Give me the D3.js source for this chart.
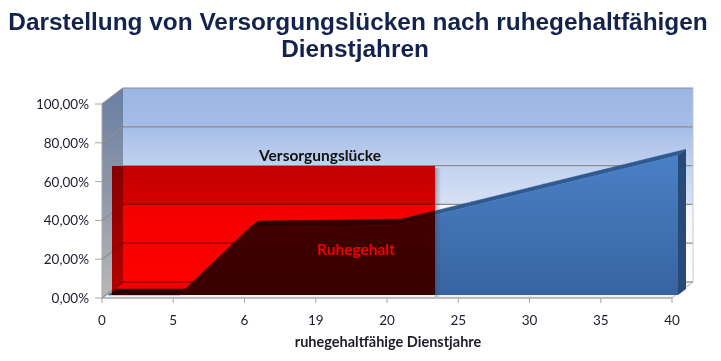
<!DOCTYPE html>
<html><head><meta charset="utf-8">
<script src="https://cdn.jsdelivr.net/npm/d3@7"></script>
<style>
html,body{margin:0;padding:0;background:#fff;}
svg{display:block;}
</style></head>
<body>
<svg id="chart" width="721" height="361"></svg>
<script>
// ---- data ----
const categories = ["0","5","6","19","20","25","30","35","40"];
const ruhegehalt = [0.00, 0.00, 0.35, 0.355, 0.36, 0.45, 0.54, 0.63, 0.72];
const yTicks = [0, 0.2, 0.4, 0.6, 0.8, 1.0];
// Versorgungslücke overlay box, in category-index units and value units
const gapFromIndex = 0.056, gapToIndex = 4.59, gapLevel = 0.665, gapBase = 0.0;
const titleLines = ["Darstellung von Versorgungslücken nach ruhegehaltfähigen", "Dienstjahren"];
const xTitle = "ruhegehaltfähige Dienstjahre";
const gapLabel = "Versorgungslücke";
const pensionLabel = "Ruhegehalt";

// ---- layout ----
const svg = d3.select("#chart");
const x = d3.scalePoint().domain(categories).range([102, 672]);
const xi = d3.scaleLinear().domain([0, categories.length - 1]).range([102, 672]);
const y = d3.scaleLinear().domain([0, 1]).range([298, 104]);
const wall = {dx: 21, dy: -16};
const sf = {dx: 6, dy: -3};   // series front face offset
const sb = {dx: 14, dy: -9};  // series back face offset
const font = "Lato, 'Open Sans', sans-serif";

const defs = svg.append("defs");
const g1 = defs.append("linearGradient").attr("id","backwall").attr("gradientUnits","userSpaceOnUse")
  .attr("x1",0).attr("y1",y(1)+wall.dy).attr("x2",0).attr("y2",y(0)+wall.dy);
[[0,"#9cb5e4"],[0.2,"#a5bde8"],[0.4,"#c2d2ef"],[0.6,"#d6e1f4"],[0.605,"#f4f7fc"],[1,"#ffffff"]]
  .forEach(s=>g1.append("stop").attr("offset",s[0]).attr("stop-color",s[1]));
const g2 = defs.append("linearGradient").attr("id","sidewall").attr("x1",0).attr("y1",0).attr("x2",0).attr("y2",1);
[[0,"#687ea3"],[0.5,"#8f98aa"],[1,"#b8b8b8"]].forEach(s=>g2.append("stop").attr("offset",s[0]).attr("stop-color",s[1]));
const g3 = defs.append("linearGradient").attr("id","bluefront").attr("x1",0).attr("y1",0).attr("x2",0).attr("y2",1);
[[0,"#4a80c6"],[1,"#3764a0"]].forEach(s=>g3.append("stop").attr("offset",s[0]).attr("stop-color",s[1]));
const g4 = defs.append("linearGradient").attr("id","shadow").attr("x1",0).attr("y1",0).attr("x2",1).attr("y2",0);
[[0,"rgba(60,60,60,0.35)"],[1,"rgba(60,60,60,0)"]].forEach(s=>g4.append("stop").attr("offset",s[0]).attr("stop-color",s[1]));

const pt = (px,py)=>px+","+py;
// back wall
svg.append("rect").attr("x", x("0")+wall.dx).attr("y", y(1)+wall.dy)
  .attr("width", x("40")-x("0")).attr("height", y(0)-y(1)).attr("fill","url(#backwall)");
// side wall
svg.append("polygon").attr("points",[pt(x("0"),y(1)),pt(x("0")+wall.dx,y(1)+wall.dy),pt(x("0")+wall.dx,y(0)+wall.dy),pt(x("0"),y(0))].join(" "))
  .attr("fill","url(#sidewall)");
// floor
svg.append("polygon").attr("points",[pt(x("0"),y(0)),pt(x("0")+wall.dx,y(0)+wall.dy),pt(x("40")+wall.dx,y(0)+wall.dy),pt(x("40"),y(0))].join(" "))
  .attr("fill","#f3f3f3").attr("stroke","#b0b0b0").attr("stroke-width",1);
// gridlines
yTicks.forEach(t=>{
  svg.append("line").attr("x1",x("0")+wall.dx).attr("x2",x("40")+wall.dx)
    .attr("y1",y(t)+wall.dy).attr("y2",y(t)+wall.dy).attr("stroke","#8e8e8e").attr("stroke-width",1.2);
  svg.append("line").attr("x1",x("0")).attr("x2",x("0")+wall.dx)
    .attr("y1",y(t)).attr("y2",y(t)+wall.dy).attr("stroke","#8e8e8e").attr("stroke-width",1.2);
});
// back wall right edge
svg.append("line").attr("x1",x("40")+wall.dx).attr("x2",x("40")+wall.dx).attr("y1",y(1)+wall.dy).attr("y2",y(0)+wall.dy)
  .attr("stroke","#c8c8c8");

// ---- Ruhegehalt 3D area ----
const data = categories.map((c,i)=>({c, v: ruhegehalt[i]}));
const topG = svg.append("g");
for(let i=0;i<data.length-1;i++){
  const a=data[i], b=data[i+1];
  topG.append("polygon").attr("points",[
    pt(x(a.c)+sf.dx,y(a.v)+sf.dy),pt(x(b.c)+sf.dx,y(b.v)+sf.dy),
    pt(x(b.c)+sb.dx,y(b.v)+sb.dy),pt(x(a.c)+sb.dx,y(a.v)+sb.dy)].join(" "))
    .attr("fill","#2f5a90").attr("stroke","#2f5a90").attr("stroke-width",0.5);
}
const last = data[data.length-1];
svg.append("polygon").attr("points",[
  pt(x(last.c)+sf.dx,y(0)+sf.dy),pt(x(last.c)+sf.dx,y(last.v)+sf.dy),
  pt(x(last.c)+sb.dx,y(last.v)+sb.dy),pt(x(last.c)+sb.dx,y(0)+sb.dy)].join(" "))
  .attr("fill","#284a78");
const area = d3.area().x(d=>x(d.c)+sf.dx).y0(y(0)+sf.dy).y1(d=>y(d.v)+sf.dy);
svg.append("path").datum(data).attr("d",area).attr("fill","url(#bluefront)");

// ---- Versorgungslücke overlay ----
const gx0 = xi(gapFromIndex)+sf.dx, gx1 = xi(gapToIndex)+sf.dx;
const gy0 = y(gapLevel)+sf.dy, gy1 = y(gapBase)+sf.dy;
svg.append("rect").attr("x",gx1).attr("y",gy0+2).attr("width",6).attr("height",gy1-gy0).attr("fill","url(#shadow)");
svg.append("rect").attr("x",gx0).attr("y",gy0).attr("width",gx1-gx0).attr("height",gy1-gy0)
  .attr("fill","#ff0000").style("mix-blend-mode","multiply");

// ---- axes ----
const ax = svg.append("g").attr("stroke","#a6a6a6").attr("stroke-width",1);
ax.append("line").attr("x1",x("0")).attr("x2",x("0")).attr("y1",y(1)).attr("y2",y(0));
ax.append("line").attr("x1",x("0")).attr("x2",x("40")).attr("y1",y(0)).attr("y2",y(0));
yTicks.forEach(t=>ax.append("line").attr("x1",x("0")-7).attr("x2",x("0")).attr("y1",y(t)).attr("y2",y(t)));
categories.forEach(c=>ax.append("line").attr("x1",x(c)).attr("x2",x(c)).attr("y1",y(0)).attr("y2",y(0)+5));

const fmt = v => (v*100).toFixed(2).replace(".",",")+"%";
svg.append("g").selectAll("text").data(yTicks).join("text")
  .attr("x",89).attr("y",d=>y(d)+5).attr("text-anchor","end")
  .attr("font-family",font).attr("font-size",13.5).attr("fill","#1c1c2c")
  .text(fmt);
svg.append("g").selectAll("text").data(categories).join("text")
  .attr("x",d=>x(d)).attr("y",y(0)+27).attr("text-anchor","middle")
  .attr("font-family",font).attr("font-size",13.5).attr("fill","#1c1c2c")
  .text(d=>d);
svg.append("text").attr("x",388).attr("y",347).attr("text-anchor","middle")
  .attr("font-family",font).attr("font-weight","bold").attr("font-size",14.5).attr("fill","#1c1c2c")
  .text(xTitle);

// ---- labels ----
svg.append("text").attr("x",320).attr("y",161).attr("text-anchor","middle")
  .attr("font-family",font).attr("font-weight","bold").attr("font-size",15.5).attr("fill","#111")
  .text(gapLabel);
svg.append("text").attr("x",356).attr("y",255).attr("text-anchor","middle")
  .attr("font-family",font).attr("font-weight","bold").attr("font-size",15.5).attr("fill","#f00000")
  .text(pensionLabel);

// ---- title ----
svg.append("text").attr("x",358).attr("y",30).attr("text-anchor","middle")
  .attr("font-family","'Liberation Sans', Arial, sans-serif").attr("font-weight","bold").attr("font-size",24.4).attr("fill","#13234d")
  .text(titleLines[0]);
svg.append("text").attr("x",355).attr("y",57).attr("text-anchor","middle")
  .attr("font-family","'Liberation Sans', Arial, sans-serif").attr("font-weight","bold").attr("font-size",24.4).attr("fill","#13234d")
  .text(titleLines[1]);
</script>
</body></html>
